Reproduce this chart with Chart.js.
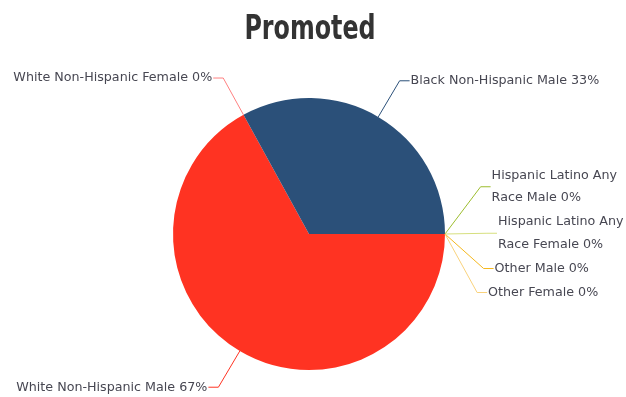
<!DOCTYPE html>
<html>
<head>
<meta charset="utf-8">
<script src="https://cdn.jsdelivr.net/npm/chart.js@4.4.1/dist/chart.umd.min.js"></script>
<style>
  html, body { margin: 0; padding: 0; background: #fff; }
  #wrap { width: 626px; height: 397px; }
</style>
</head>
<body>
<div id="wrap"><canvas id="chart" width="626" height="397"></canvas></div>
<script>
const chartTitle = "Promoted";
const groups = [
  "White Non-Hispanic Male",
  "White Non-Hispanic Female",
  "Black Non-Hispanic Male",
  "Hispanic Latino Any Race Male",
  "Hispanic Latino Any Race Female",
  "Other Male",
  "Other Female"
];
const shares = [67, 0, 33, 0, 0, 0, 0];
const colors = ["#ff3322", "#ff8080", "#2b5079", "#9dbd2e", "#d6df7e", "#f5b81e", "#f9d27c"];

const labelFont = "12.7px 'DejaVu Sans'";
const labelColor = "#474752";

function wrapText(ctx, text, maxW) {
  const words = text.split(" ");
  const lines = [];
  let cur = "";
  words.forEach(w => {
    const test = cur ? cur + " " + w : w;
    if (cur && ctx.measureText(test).width > maxW) {
      lines.push(cur);
      cur = w;
    } else {
      cur = test;
    }
  });
  if (cur) lines.push(cur);
  return lines;
}

// condensed heavy title, drawn above the pie
const condensedTitle = {
  id: "condensedTitle",
  afterDraw(chart) {
    const ctx = chart.ctx;
    ctx.save();
    ctx.font = "bold 34px 'DejaVu Sans'";
    ctx.fillStyle = "#333333";
    ctx.textAlign = "center";
    ctx.textBaseline = "alphabetic";
    const cx = (chart.chartArea.left + chart.chartArea.right) / 2;
    ctx.translate(cx + 1, 39);
    ctx.scale(0.7, 1);
    ctx.fillText(chartTitle, 0, 0);
    ctx.restore();
  }
};

// labels outside the pie with bent leader lines
const outsideLabels = {
  id: "outsideLabels",
  afterDraw(chart) {
    const ctx = chart.ctx;
    const meta = chart.getDatasetMeta(0);
    const values = chart.data.datasets[0].data;
    const total = values.reduce((a, b) => a + b, 0);
    const lineH = 22.5;
    ctx.save();
    ctx.font = labelFont;

    const items = [];
    meta.data.forEach((arc, i) => {
      const p = arc.getProps(["x", "y", "startAngle", "endAngle", "outerRadius"], true);
      const mid = (p.startAngle + p.endAngle) / 2;
      const R = p.outerRadius + 42;
      const right = Math.cos(mid) >= -1e-9;
      const ex = p.x + R * Math.cos(mid);
      let avail = right ? chart.width - (ex + 10) : ex - 10;
      avail = Math.max(avail, 130);
      const text = chart.data.labels[i] + " " + Math.round(values[i] / total * 100) + "%";
      const lines = wrapText(ctx, text, avail);
      items.push({
        i, mid, R, right, lines,
        cx: p.x, cy: p.y, r: p.outerRadius,
        want: p.y + R * Math.sin(mid),
        h: lines.length * lineH + 1.5
      });
    });

    // spread labels on each side so they do not overlap
    [true, false].forEach(side => {
      const list = items.filter(it => it.right === side).sort((a, b) => a.want - b.want);
      let clusters = list.map(it => ({ items: [it], h: it.h }));
      let merged = true;
      while (merged) {
        merged = false;
        clusters.forEach(c => {
          const meanW = c.items.reduce((s, it) => s + it.want, 0) / c.items.length;
          c.top = meanW - c.h / 2;
        });
        for (let k = 0; k < clusters.length - 1; k++) {
          const a = clusters[k], b = clusters[k + 1];
          if (a.top + a.h > b.top) {
            a.items = a.items.concat(b.items);
            a.h += b.h;
            clusters.splice(k + 1, 1);
            merged = true;
            break;
          }
        }
      }
      clusters.forEach(c => {
        let y = c.top;
        c.items.forEach(it => {
          it.y = y + it.h / 2;
          y += it.h;
        });
      });
    });

    items.forEach(it => {
      const col = colors[it.i];
      const sx = it.cx + it.r * Math.cos(it.mid);
      const sy = it.cy + it.r * Math.sin(it.mid);
      const dy = it.y - it.cy;
      const dx = Math.sqrt(Math.max(it.R * it.R - dy * dy, 0));
      const bx = it.right ? it.cx + dx : it.cx - dx;
      const tx = it.right ? bx + 10 : bx - 10;

      ctx.strokeStyle = col;
      ctx.lineWidth = 1;
      ctx.beginPath();
      ctx.moveTo(sx, sy);
      ctx.lineTo(bx, it.y);
      ctx.lineTo(tx, it.y);
      ctx.stroke();

      ctx.fillStyle = labelColor;
      ctx.textAlign = it.right ? "left" : "right";
      ctx.textBaseline = "middle";
      const n = it.lines.length;
      it.lines.forEach((ln, k) => {
        ctx.fillText(ln, it.right ? tx + 1 : tx - 1, it.y + (k - (n - 1) / 2) * lineH);
      });
    });
    ctx.restore();
  }
};

new Chart(document.getElementById("chart").getContext("2d"), {
  type: "pie",
  data: {
    labels: groups,
    datasets: [{
      data: shares,
      backgroundColor: colors,
      borderWidth: 0,
      hoverOffset: 0
    }]
  },
  options: {
    responsive: false,
    animation: false,
    rotation: 90,
    layout: {
      padding: { left: 173, right: 181, top: 98, bottom: 27 }
    },
    plugins: {
      legend: { display: false },
      tooltip: { enabled: false },
      title: { display: false }
    }
  },
  plugins: [condensedTitle, outsideLabels]
});
</script>
</body>
</html>
